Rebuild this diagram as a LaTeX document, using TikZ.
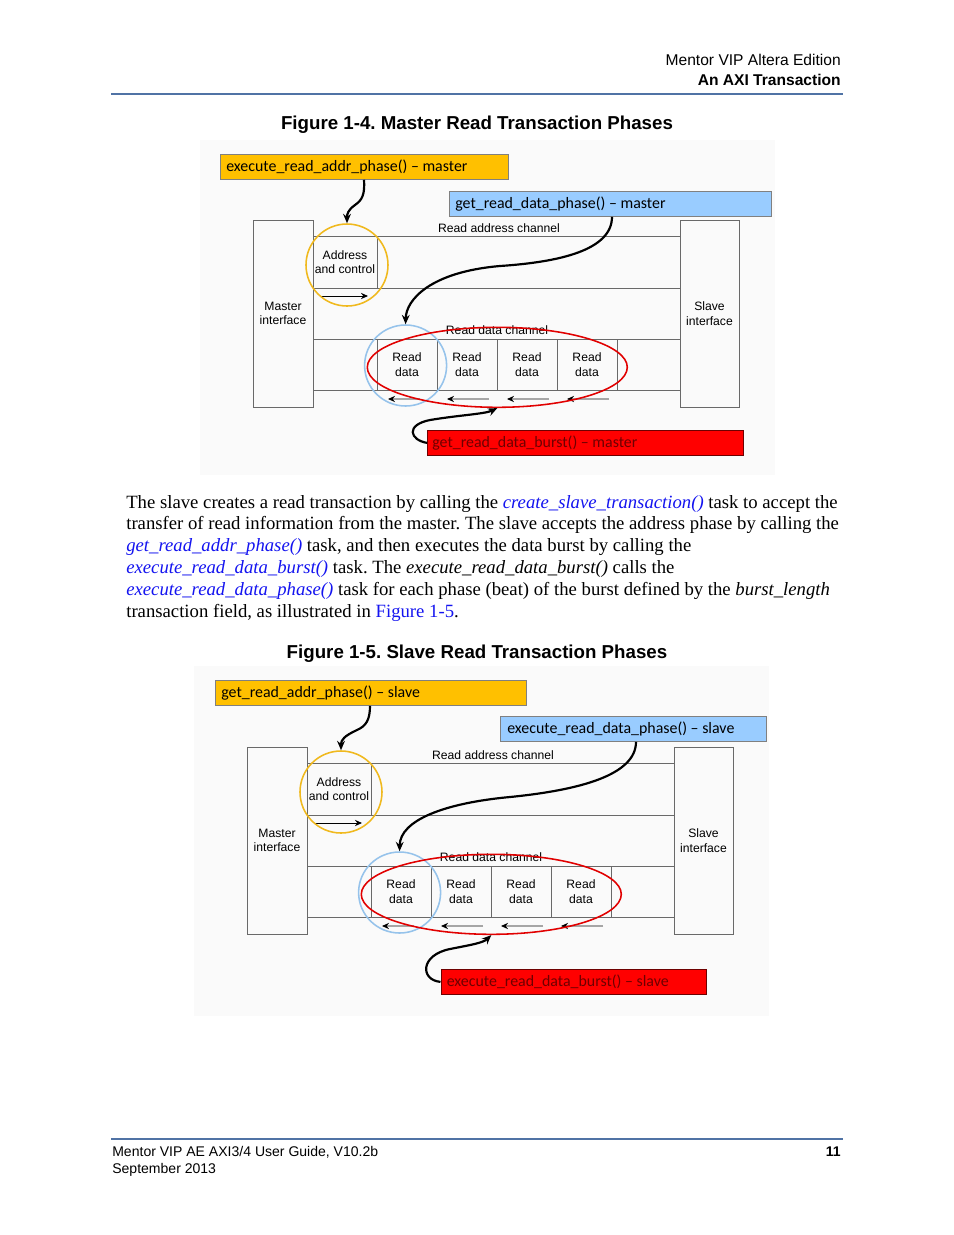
\documentclass[tikz,border=0pt]{standalone}
\usepackage{fontspec}
\setmainfont{Liberation Serif}
\newfontfamily\arialf{Liberation Sans}
\newfontfamily\calibf{Carlito}
\usetikzlibrary{shapes.geometric,arrows.meta,calc}
\definecolor{hdrblue}{RGB}{80,115,165}
\definecolor{linkblue}{RGB}{20,20,240}
\definecolor{boxorange}{RGB}{255,192,0}
\definecolor{boxblue}{RGB}{153,204,255}
\definecolor{boxred}{RGB}{255,0,0}
\definecolor{darkredtxt}{RGB}{110,0,0}
\definecolor{circorange}{RGB}{240,185,30}
\definecolor{circblue}{RGB}{150,195,235}
\definecolor{ellred}{RGB}{225,0,0}
\definecolor{linegray}{RGB}{105,105,105}
\definecolor{figbg}{RGB}{250,250,250}
\def\PXU{0.6415pt}
\newcommand\mylink[1]{{\color{linkblue}\textit{#1}}}
\newcommand\corediag[1]{%
  \node[ibox] (#1mi) at (283,313.5) {Master\\interface};
  \node[ibox, minimum width=59*\PXU] (#1si) at (709.5,313.5) {Slave\\interface};
  \draw[chan] (313,236) -- (680,236);
  \draw[chan] (313,288) -- (680,288);
  \draw[chan] (313,339) -- (680,339);
  \draw[chan] (313,390) -- (680,390);
  \node[cell, minimum width=64*\PXU, minimum height=52*\PXU] (#1ac) at (345,262) {Address\\and control};
  \node[cell] (#1c1) at (407,364.5) {Read\\data};
  \node[cell] (#1c2) at (467,364.5) {Read\\data};
  \node[cell] (#1c3) at (527,364.5) {Read\\data};
  \node[cell] (#1c4) at (587,364.5) {Read\\data};
  \draw[smallarr] (321,296) -- (368,296);
  \draw[dataarr] (420,399) -- (388,399);
  \draw[dataarr] (489,399) -- (447,399);
  \draw[dataarr] (549,399) -- (507,399);
  \draw[dataarr] (609,399) -- (567,399);
  \node[lbl] (#1la) at (499,228) {Read address channel};
  \node[lbl] (#1ld) at (497,330) {Read data channel};
  \node[ocirc] (#1oc) at (347,265) {};
  \node[bcirc] (#1bc) at (405.6,365.5) {};
  \node[rell] (#1re) at (497.3,367.3) {};
}
\begin{document}
\frenchspacing
\begin{tikzpicture}[x=\PXU, y=-\PXU,
  hdr/.style={font=\arialf\fontsize{10}{12}\selectfont, inner sep=0},
  ftr/.style={font=\arialf\fontsize{9}{11}\selectfont, inner sep=0},
  ttl/.style={font=\arialf\bfseries\fontsize{12}{14}\selectfont, inner sep=0, anchor=base},
  body/.style={font=\fontsize{12}{14}\selectfont, inner sep=0, anchor=base west},
  hrule/.style={draw=hdrblue, line width=1pt},
  ibox/.style={draw=linegray, line width=0.6pt, minimum width=60*\PXU, minimum height=187*\PXU, align=center, inner sep=0, font=\arialf\fontsize{7.8}{9.3}\selectfont},
  cell/.style={draw=linegray, line width=0.6pt, minimum width=60*\PXU, minimum height=51*\PXU, align=center, inner sep=0, font=\arialf\fontsize{7.8}{9.3}\selectfont},
  lbl/.style={inner sep=0, font=\arialf\fontsize{7.8}{9.3}\selectfont},
  chan/.style={draw=linegray, line width=0.6pt},
  smallarr/.style={line width=0.6pt, -{Stealth[length=4.5pt,width=4pt]}},
  dataarr/.style={draw=gray!70, line width=0.7pt, -{Stealth[length=4.5pt,width=4pt,color=black]}},
  ocirc/.style={ellipse, draw=circorange, line width=1pt, minimum width=82*\PXU, minimum height=82*\PXU, inner sep=0},
  bcirc/.style={ellipse, draw=circblue, line width=1pt, minimum width=82*\PXU, minimum height=81*\PXU, inner sep=0},
  rell/.style={ellipse, draw=ellred, line width=1pt, minimum width=260*\PXU, minimum height=80*\PXU, inner sep=0},
  tagbox/.style={minimum height=25*\PXU, inner sep=0, anchor=north west, line width=0.5pt},
  tagtxt/.style={font=\calibf\fontsize{10.2}{12}\selectfont, inner sep=0, anchor=base west},
  conn/.style={line width=1.4pt, -{Stealth[length=6pt,width=5pt]}}
]
\useasboundingbox (0,0) rectangle (954,1235);
\fill[white] (0,0) rectangle (954,1235);

% header
\node[hdr, anchor=base east] (h1) at (841,65.5) {Mentor VIP Altera Edition};
\node[hdr, anchor=base east, font=\arialf\bfseries\fontsize{10}{12}\selectfont] (h2) at (841,85.5) {An AXI Transaction};
\draw[hrule] (111,94) -- (843,94);

% figure 1-4
\node[ttl] (t1) at (477,129.5) {Figure 1-4. Master Read Transaction Phases};
\fill[figbg] (200,140) rectangle (775,475);
\corediag{a}
\node[tagbox, fill=boxorange, draw=gray, minimum width=288*\PXU] (ob1) at (220,154) {};
\node[tagtxt] (ot1) at ($(ob1.west)+(6,4.5)$) {execute\_read\_addr\_phase() – master};
\node[tagbox, fill=boxblue, draw=gray, minimum width=322*\PXU] (bb1) at (449,191) {};
\node[tagtxt] (bt1) at ($(bb1.west)+(6,4.5)$) {get\_read\_data\_phase() – master};
\node[tagbox, fill=boxred, draw=darkredtxt, minimum width=316*\PXU] (rb1) at (427,430) {};
\node[tagtxt, text=darkredtxt] (rt1) at ($(rb1.west)+(5,4.5)$) {get\_read\_data\_burst() – master};
\draw[conn] ($(ob1.south west)+(144,0)$) .. controls (365,195) and (362,200) .. (355,205) .. controls (348,210) and (347,214) .. (aoc.north);
\draw[conn] ($(bb1.south west)+(163,0)$) .. controls (612,250) and (560,262) .. (500,266) .. controls (430,272) and (406,300) .. (abc.north);
\draw[conn] (rb1.west) .. controls (410,440) and (405,425) .. (430,420) .. controls (460,415) and (485,414) .. (are.south);

% body text
\node[body] (p1) at (126,508) {The slave creates a read transaction by calling the \mylink{create\_slave\_transaction()} task to accept the};
\node[body] (p2) at (126,529.9) {transfer of read information from the master. The slave accepts the address phase by calling the};
\node[body] (p3) at (126,551.8) {\mylink{get\_read\_addr\_phase()} task, and then executes the data burst by calling the};
\node[body] (p4) at (126,573.7) {\mylink{execute\_read\_data\_burst()} task. The \textit{execute\_read\_data\_burst()} calls the};
\node[body] (p5) at (126,595.6) {\mylink{execute\_read\_data\_phase()} task for each phase (beat) of the burst defined by the \textit{burst\_length}};
\node[body] (p6) at (126,617.5) {transaction field, as illustrated in {\color{linkblue}Figure 1-5}.};

% figure 1-5
\node[ttl] (t2) at (477,658.5) {Figure 1-5. Slave Read Transaction Phases};
\fill[figbg] (194,666) rectangle (769,1016);
\begin{scope}[shift={(-6,527)}]
\corediag{b}
\end{scope}
\node[tagbox, fill=boxorange, draw=gray, minimum width=311*\PXU] (ob2) at (215,680) {};
\node[tagtxt] (ot2) at ($(ob2.west)+(6,4.5)$) {get\_read\_addr\_phase() – slave};
\node[tagbox, fill=boxblue, draw=gray, minimum width=266*\PXU] (bb2) at (500,716) {};
\node[tagtxt] (bt2) at ($(bb2.west)+(7,4.5)$) {execute\_read\_data\_phase() – slave};
\node[tagbox, fill=boxred, draw=darkredtxt, minimum width=265*\PXU] (rb2) at (440.5,969) {};
\node[tagtxt, text=darkredtxt] (rt2) at ($(rb2.west)+(6,4.5)$) {execute\_read\_data\_burst() – slave};
\draw[conn] ($(ob2.south west)+(155,0)$) .. controls (370,720) and (366,726) .. (357,730) .. controls (344,736) and (341,740) .. (boc.north);
\draw[conn] ($(bb2.south west)+(136,0)$) .. controls (636,775) and (580,790) .. (510,797) .. controls (445,803) and (400,820) .. (bbc.north);
\draw[conn] (rb2.west) .. controls (420,980) and (420,955) .. (450,949) .. controls (470,945) and (483,943) .. (bre.south);

% footer
\draw[hrule] (111,1139) -- (843,1139);
\node[ftr, anchor=base west] (f1) at (112,1156.5) {Mentor VIP AE AXI3/4 User Guide, V10.2b};
\node[ftr, anchor=base west] (f2) at (112,1173.5) {September 2013};
\node[ftr, anchor=base east, font=\arialf\bfseries\fontsize{9}{11}\selectfont] (f3) at (841,1156.5) {11};
\end{tikzpicture}
\end{document}
